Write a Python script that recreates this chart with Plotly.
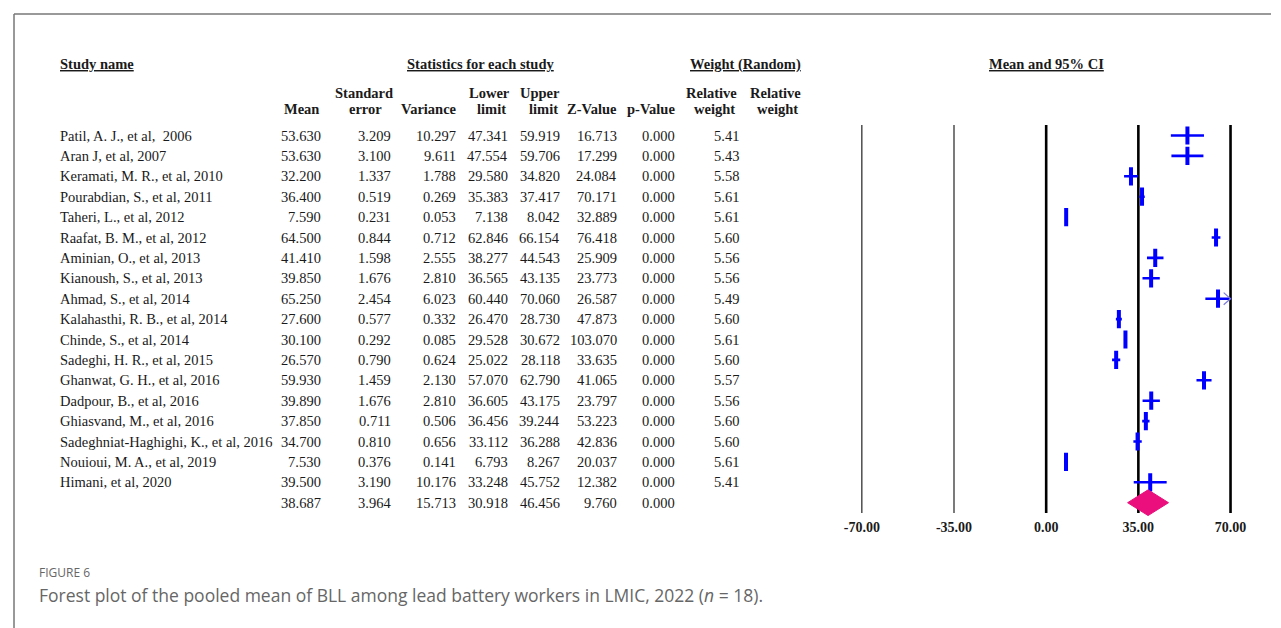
import plotly.graph_objects as go

# ---------------- data ----------------
studies = [
    "Patil, A. J., et al,  2006", "Aran J, et al, 2007", "Keramati, M. R., et al, 2010",
    "Pourabdian, S., et al, 2011", "Taheri, L., et al, 2012", "Raafat, B. M., et al, 2012",
    "Aminian, O., et al, 2013", "Kianoush, S., et al, 2013", "Ahmad, S., et al, 2014",
    "Kalahasthi, R. B., et al, 2014", "Chinde, S., et al, 2014", "Sadeghi, H. R., et al, 2015",
    "Ghanwat, G. H., et al, 2016", "Dadpour, B., et al, 2016", "Ghiasvand, M., et al, 2016",
    "Sadeghniat-Haghighi, K., et al, 2016", "Nouioui, M. A., et al, 2019", "Himani, et al, 2020",
]
mean = [53.630, 53.630, 32.200, 36.400, 7.590, 64.500, 41.410, 39.850, 65.250,
        27.600, 30.100, 26.570, 59.930, 39.890, 37.850, 34.700, 7.530, 39.500]
std_err = [3.209, 3.100, 1.337, 0.519, 0.231, 0.844, 1.598, 1.676, 2.454,
           0.577, 0.292, 0.790, 1.459, 1.676, 0.711, 0.810, 0.376, 3.190]
variance = [10.297, 9.611, 1.788, 0.269, 0.053, 0.712, 2.555, 2.810, 6.023,
            0.332, 0.085, 0.624, 2.130, 2.810, 0.506, 0.656, 0.141, 10.176]
lower = [47.341, 47.554, 29.580, 35.383, 7.138, 62.846, 38.277, 36.565, 60.440,
         26.470, 29.528, 25.022, 57.070, 36.605, 36.456, 33.112, 6.793, 33.248]
upper = [59.919, 59.706, 34.820, 37.417, 8.042, 66.154, 44.543, 43.135, 70.060,
         28.730, 30.672, 28.118, 62.790, 43.175, 39.244, 36.288, 8.267, 45.752]
z_value = [16.713, 17.299, 24.084, 70.171, 32.889, 76.418, 25.909, 23.773, 26.587,
           47.873, 103.070, 33.635, 41.065, 23.797, 53.223, 42.836, 20.037, 12.382]
p_value = [0.000] * 18
rel_weight = [5.41, 5.43, 5.58, 5.61, 5.61, 5.60, 5.56, 5.56, 5.49,
              5.60, 5.61, 5.60, 5.57, 5.56, 5.60, 5.60, 5.61, 5.41]

pooled_mean = 38.687
pooled_se = 3.964
pooled_var = 15.713
pooled_lower = 30.918
pooled_upper = 46.456
pooled_z = 9.760
pooled_p = 0.000

tick_vals = [-70, -35, 0, 35, 70]
x_min, x_max = -70, 70

# ---------------- geometry helpers ----------------
W, H = 1281, 628
ROW0, ROWH = 135.5, 20.4
# horizontal placement: the photographed page spans x = 12 .. 1271
X_OFF, X_SPAN = 12.0, 1259.0


def px_to_row(py):
    return (py - ROW0) / ROWH


def px(xp):
    return max(0.0, (xp - X_OFF) / X_SPAN)


n = len(studies)
rows = list(range(n))
pooled_row = n

SERIF = "Liberation Serif"
BLUE = "#0000FF"

fig = go.Figure()

# CI lines
ci_x, ci_y = [], []
for r, lo, hi in zip(rows, lower, upper):
    ci_x += [lo, min(hi, x_max), None]
    ci_y += [r, r, None]
fig.add_trace(go.Scatter(x=ci_x, y=ci_y, mode="lines",
                         line=dict(color=BLUE, width=2.6), hoverinfo="skip"))

# point estimates
fig.add_trace(go.Scatter(x=mean, y=rows, mode="markers",
                         marker=dict(symbol="line-ns", size=13,
                                     line=dict(color=BLUE, width=4)),
                         hoverinfo="skip"))

# arrows for CIs beyond the axis
ar_x, ar_y = [], []
for r, hi in zip(rows, upper):
    if hi > x_max:
        ar_x += [x_max - 2.6, x_max, x_max - 2.6, None]
        ar_y += [r - 0.3, r, r + 0.3, None]
fig.add_trace(go.Scatter(x=ar_x, y=ar_y, mode="lines",
                         line=dict(color="#7b7be0", width=1.2), hoverinfo="skip"))

# pooled diamond
dh = 0.63
fig.add_trace(go.Scatter(
    x=[pooled_lower, pooled_mean, pooled_upper, pooled_mean, pooled_lower],
    y=[pooled_row, pooled_row - dh, pooled_row, pooled_row + dh, pooled_row],
    mode="lines", fill="toself", fillcolor="#EA0F7C",
    line=dict(color="#EA0F7C", width=1), hoverinfo="skip"))

# vertical reference lines
y_top, y_bot = px_to_row(125), px_to_row(513)
for v in tick_vals:
    thick = v >= 0
    fig.add_shape(type="line", xref="x", yref="y", x0=v, x1=v, y0=y_top, y1=y_bot,
                  line=dict(color="#000000" if thick else "#333333",
                            width=2.6 if thick else 1.3), layer="below")

# ---------------- table text ----------------
ann = []
TXT = dict(family=SERIF, size=14.5, color="#1a1a1a")
HDR = dict(family=SERIF, size=14.5, color="#1a1a1a")


def add_text(x, row, text, anchor="right", font=TXT):
    ann.append(dict(x=px(x), y=row, xref="paper", yref="y", text=text,
                    showarrow=False, xanchor=anchor, yanchor="middle", font=font))


cols = [  # (right edge px, values, fmt)
    (322, mean, "{:.3f}"),
    (392, std_err, "{:.3f}"),
    (457, variance, "{:.3f}"),
    (509, lower, "{:.3f}"),
    (561, upper, "{:.3f}"),
    (618, z_value, "{:.3f}"),
    (677, p_value, "{:.3f}"),
    (741, rel_weight, "{:.2f}"),
]
for r, name in zip(rows, studies):
    add_text(57, r, name, anchor="left")
for xr, vals, fmt in cols:
    for r, v in zip(rows, vals):
        add_text(xr, r, fmt.format(v))
pooled_vals = [pooled_mean, pooled_se, pooled_var, pooled_lower, pooled_upper, pooled_z, pooled_p]
for (xr, _, fmt), v in zip(cols[:7], pooled_vals):
    add_text(xr, pooled_row, fmt.format(v))

# headers
r1, r2, r3 = px_to_row(64), px_to_row(93), px_to_row(108.5)
add_text(57, r1, "<b><u>Study name</u></b>", anchor="left", font=HDR)
add_text(480, r1, "<b><u>Statistics for each study</u></b>", anchor="center", font=HDR)
add_text(745, r1, "<b><u>Weight (Random)</u></b>", anchor="center", font=HDR)
add_text(1046, r1, "<b><u>Mean and 95% CI</u></b>", anchor="center", font=HDR)

add_text(320, r3, "<b>Mean</b>", font=HDR)
add_text(363, r2, "<b>Standard</b>", anchor="center", font=HDR)
add_text(365, r3, "<b>error</b>", anchor="center", font=HDR)
add_text(458, r3, "<b>Variance</b>", font=HDR)
add_text(489, r2, "<b>Lower</b>", anchor="center", font=HDR)
add_text(491, r3, "<b>limit</b>", anchor="center", font=HDR)
add_text(539, r2, "<b>Upper</b>", anchor="center", font=HDR)
add_text(543, r3, "<b>limit</b>", anchor="center", font=HDR)
add_text(618, r3, "<b>Z-Value</b>", font=HDR)
add_text(677, r3, "<b>p-Value</b>", font=HDR)
add_text(711, r2, "<b>Relative</b>", anchor="center", font=HDR)
add_text(714, r3, "<b>weight</b>", anchor="center", font=HDR)
add_text(775, r2, "<b>Relative</b>", anchor="center", font=HDR)
add_text(777, r3, "<b>weight</b>", anchor="center", font=HDR)

# caption
ann.append(dict(x=px(36), y=1 - 572 / H, xref="paper", yref="paper", text="FIGURE 6",
                showarrow=False, xanchor="left", yanchor="middle",
                font=dict(family="Open Sans", size=12, color="#666666")))
ann.append(dict(x=px(36), y=1 - 595 / H, xref="paper", yref="paper",
                text="Forest plot of the pooled mean of BLL among lead battery workers in LMIC, 2022 (<i>n</i> = 18).",
                showarrow=False, xanchor="left", yanchor="middle",
                font=dict(family="Open Sans", size=17.5, color="#666666")))

# frame lines (top and left)
fx = 0.0008
fig.add_shape(type="line", xref="paper", yref="paper", x0=fx, x1=1, y0=1 - 14 / H, y1=1 - 14 / H,
              line=dict(color="#777777", width=1.5))
fig.add_shape(type="line", xref="paper", yref="paper", x0=fx, x1=fx, y0=0, y1=1 - 14 / H,
              line=dict(color="#777777", width=1.5))

# axes
ppu = (1230.7 - 861.7) / 140.0
xr_lo, xr_hi = -72, 72
d0 = px(1046 + xr_lo * ppu)
d1 = px(1046 + xr_hi * ppu)
fig.update_layout(
    width=W, height=H, margin=dict(l=0, r=0, t=0, b=0),
    paper_bgcolor="white", plot_bgcolor="rgba(0,0,0,0)",
    showlegend=False, annotations=ann,
    xaxis=dict(domain=[d0, d1], range=[xr_lo, xr_hi], showgrid=False, zeroline=False,
               showline=False, ticks="", tickvals=tick_vals,
               ticktext=["<b>{:.2f}</b>".format(v) for v in tick_vals],
               tickfont=dict(family=SERIF, size=14, color="#1a1a1a"),
               anchor="free", position=1 - 517 / H, fixedrange=True),
    yaxis=dict(domain=[0, 1], range=[px_to_row(H), px_to_row(0)], visible=False,
               fixedrange=True),
)

fig.write_html("out.html", config={"displayModeBar": False},
               post_script="document.body.style.margin='0';document.body.style.overflow='hidden';")
